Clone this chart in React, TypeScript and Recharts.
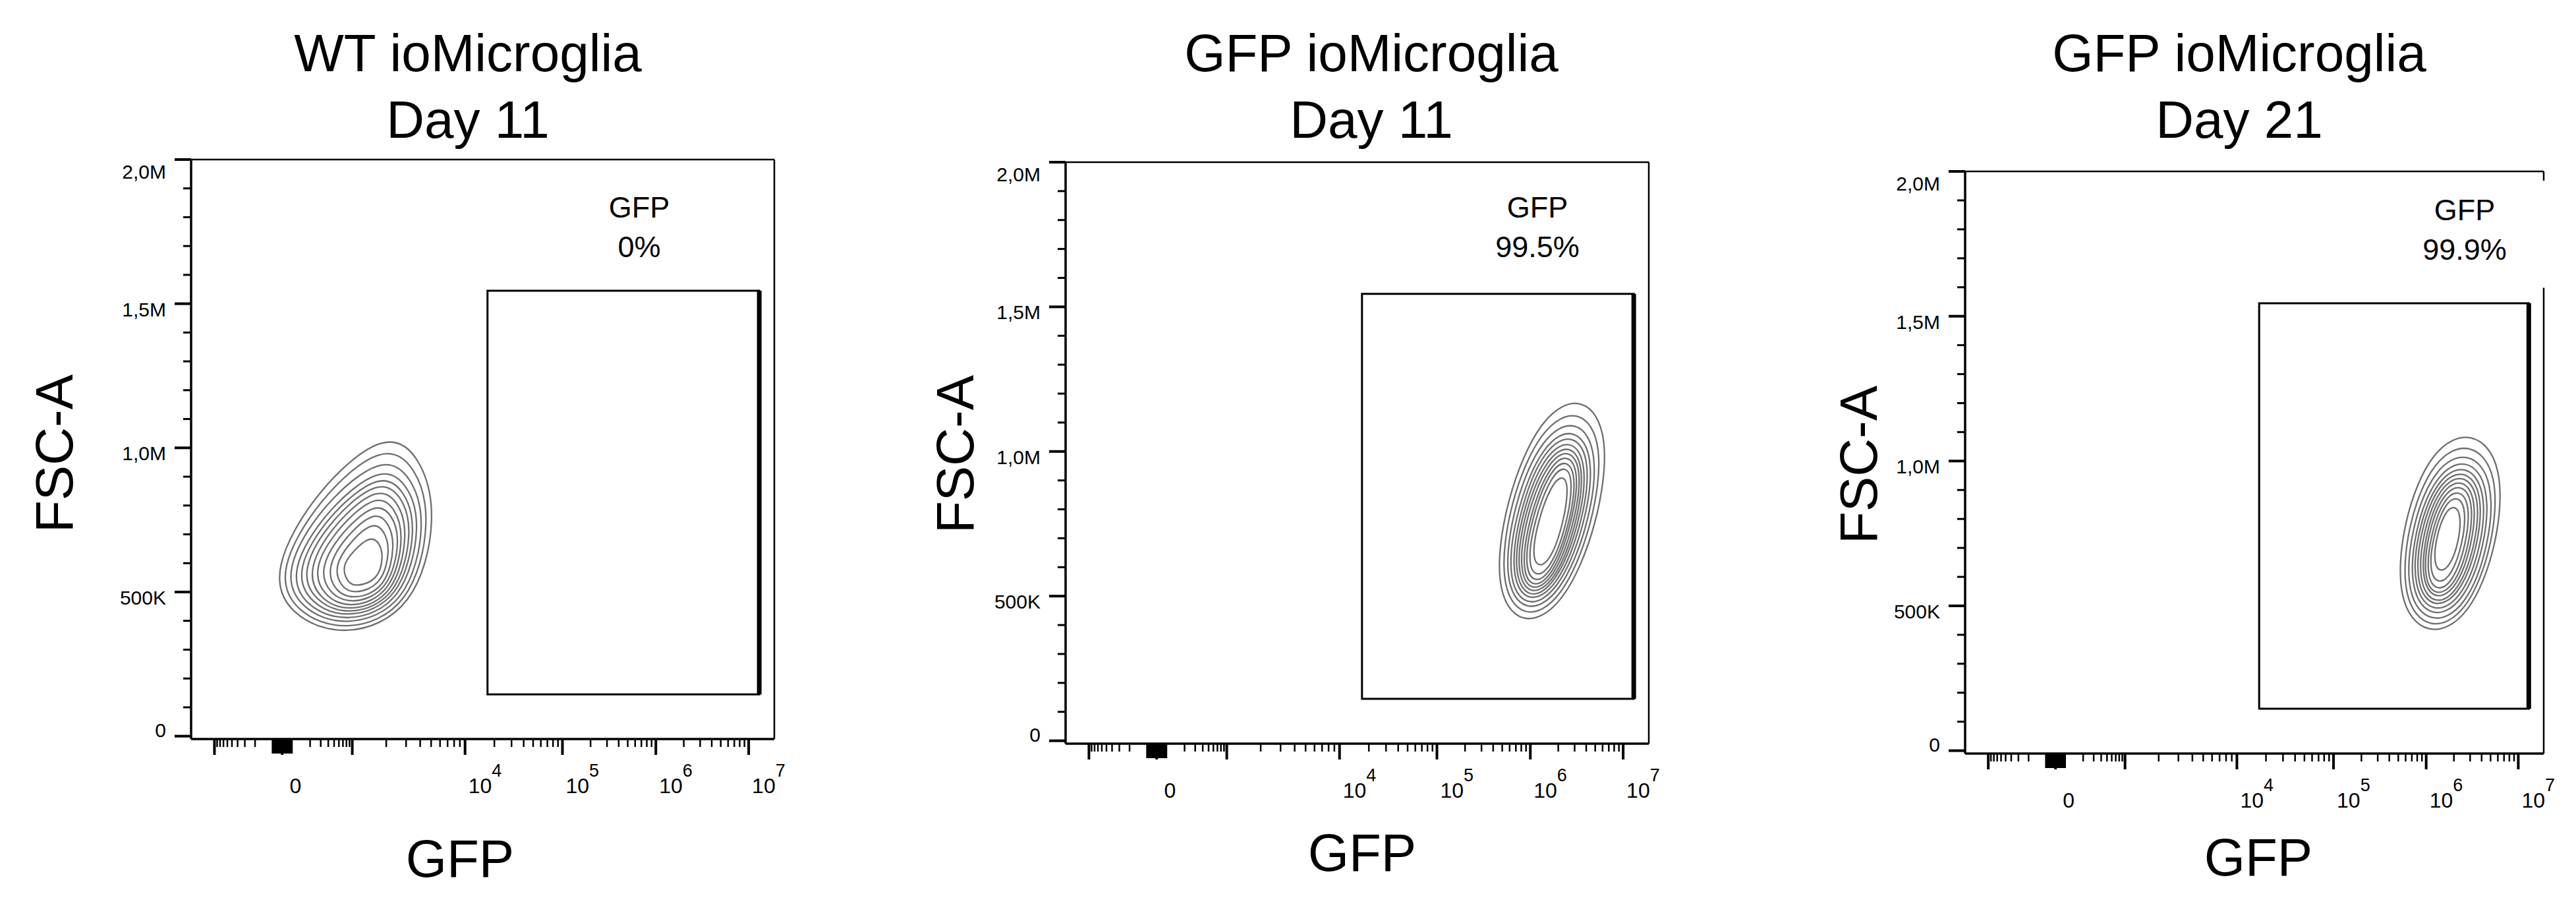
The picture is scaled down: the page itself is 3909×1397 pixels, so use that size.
import React from 'react';
import { ComposedChart, XAxis, YAxis, Scatter, ReferenceArea, ReferenceLine } from 'recharts';

// GFP is shown on a biexponential display: 0..1024 channel scale, anchored at decades
const X_ZERO_CH = 160;
const X_POS_DECADES = [100, 1e3, 1e4, 1e5, 1e6, 1e7];
const X_POS_CH = [177, 283, 481, 652, 816, 979];
const X_NEG_CH = [143, 41]; // -100, -1000

const X_LABELED = [0, 1e4, 1e5, 1e6, 1e7];
const X_EXPONENTS = ['', '4', '5', '6', '7'];
const X_LONG = [-1000, 1000];
const X_NEAR_ZERO = [-100, -90, -80, -70, -60, -50, -40, -30, -20, -10, 10, 20, 30, 40, 50, 60, 70, 80, 90, 100];
const X_MINOR_STEPS = [2, 3, 4, 5, 6, 7, 8, 9];
const X_MINOR_DECADES = [100, 1e3, 1e4, 1e5, 1e6];
const X_NEG_MINOR = [-200, -300, -400, -500, -600, -700, -800, -900];

// FSC-A in thousands
const Y_LABELED = [0, 500, 1000, 1500, 2000];
const Y_LABELS = ['0', '500K', '1,0M', '1,5M', '2,0M'];
const Y_MINOR = [100, 200, 300, 400, 600, 700, 800, 900, 1100, 1200, 1300, 1400, 1600, 1700, 1800, 1900];

const TITLES = ['WT ioMicroglia', 'GFP ioMicroglia', 'GFP ioMicroglia'];
const DAYS = ['Day 11', 'Day 11', 'Day 21'];
const GATE_NAME = 'GFP';
const GATE_PCT = ['0%', '99.5%', '99.9%'];
const GATE_GFP = [17000, 1.3e7];
const GATE_FSC = [145, 1545];

// contour rings: [GFP channel, FSC-A (K)]
const WT_D11_RINGS: number[][][] = [
  [[341, 1064], [403, 974], [434, 763], [393, 435], [270, 338], [172, 418], [139, 572], [219, 854]],
  [[337, 1020], [395, 938], [423, 755], [386, 444], [271, 356], [181, 430], [150, 572], [225, 828]],
  [[336, 978], [387, 903], [414, 746], [380, 454], [272, 374], [190, 441], [161, 574], [230, 804]],
  [[334, 943], [381, 874], [405, 737], [373, 463], [274, 389], [198, 450], [172, 575], [236, 783]],
  [[332, 917], [375, 853], [397, 728], [368, 472], [275, 403], [207, 460], [182, 577], [241, 769]],
  [[330, 894], [370, 834], [390, 719], [363, 479], [277, 415], [215, 469], [192, 578], [246, 755]],
  [[328, 869], [364, 814], [382, 709], [358, 485], [278, 427], [223, 476], [203, 580], [252, 741]],
  [[326, 843], [358, 792], [375, 698], [353, 494], [280, 440], [232, 485], [213, 582], [258, 726]],
  [[324, 813], [353, 769], [368, 685], [348, 503], [282, 455], [241, 495], [225, 584], [264, 709]],
  [[322, 782], [346, 743], [359, 670], [343, 512], [284, 471], [251, 505], [238, 587], [271, 692]],
  [[319, 745], [339, 714], [350, 650], [336, 525], [286, 491], [262, 519], [251, 589], [278, 672]],
  [[314, 694], [331, 672], [338, 622], [328, 541], [289, 517], [273, 536], [265, 592], [285, 643]],
];

const GFP_D11_RINGS: number[][][] = [
  [[909, 1198], [956, 1062], [936, 749], [874, 461], [799, 391], [752, 525], [772, 835], [834, 1127]],
  [[903, 1152], [945, 1030], [927, 748], [871, 481], [803, 416], [761, 540], [779, 826], [835, 1088]],
  [[898, 1115], [936, 1004], [920, 747], [868, 499], [806, 438], [768, 552], [786, 818], [837, 1057]],
  [[894, 1086], [929, 984], [913, 745], [865, 513], [808, 455], [774, 561], [792, 809], [839, 1031]],
  [[892, 1066], [923, 969], [907, 743], [863, 527], [811, 472], [780, 570], [797, 802], [840, 1013]],
  [[889, 1046], [917, 955], [902, 741], [860, 537], [813, 485], [785, 577], [801, 794], [842, 995]],
  [[887, 1029], [912, 943], [897, 739], [859, 548], [815, 498], [790, 584], [805, 788], [844, 979]],
  [[885, 1013], [908, 932], [892, 737], [857, 558], [817, 511], [795, 591], [809, 781], [846, 965]],
  [[883, 996], [903, 920], [887, 735], [855, 568], [819, 524], [800, 597], [814, 774], [848, 949]],
  [[881, 977], [898, 906], [883, 732], [853, 581], [822, 541], [805, 607], [818, 767], [849, 932]],
  [[879, 956], [892, 891], [878, 731], [852, 598], [825, 562], [811, 620], [823, 760], [851, 913]],
  [[875, 923], [884, 868], [871, 728], [851, 625], [830, 597], [819, 641], [828, 750], [852, 885]],
];

const GFP_D21_RINGS: number[][][] = [
  [[899, 1110], [953, 991], [944, 713], [892, 455], [818, 390], [764, 510], [773, 788], [825, 1046]],
  [[895, 1070], [944, 961], [935, 708], [888, 471], [821, 412], [773, 521], [781, 774], [828, 1011]],
  [[892, 1037], [936, 937], [928, 705], [885, 488], [824, 434], [780, 533], [788, 766], [831, 983]],
  [[889, 1012], [928, 920], [921, 706], [881, 505], [826, 455], [787, 546], [794, 761], [834, 961]],
  [[886, 991], [922, 906], [915, 706], [878, 519], [828, 472], [792, 557], [799, 756], [836, 943]],
  [[884, 974], [916, 895], [909, 709], [875, 534], [829, 489], [797, 567], [804, 754], [838, 929]],
  [[882, 958], [911, 884], [904, 709], [872, 544], [831, 501], [802, 575], [809, 750], [840, 915]],
  [[880, 941], [905, 873], [898, 711], [870, 558], [832, 518], [807, 586], [814, 748], [842, 901]],
  [[878, 924], [900, 862], [893, 711], [867, 569], [833, 531], [811, 593], [818, 744], [844, 886]],
  [[875, 904], [894, 848], [887, 712], [864, 583], [835, 548], [816, 603], [823, 740], [846, 869]],
  [[872, 882], [887, 834], [881, 716], [861, 604], [837, 573], [821, 621], [828, 739], [848, 852]],
  [[867, 849], [878, 812], [874, 723], [859, 638], [840, 614], [829, 651], [834, 740], [849, 825]],
];

const RINGS = [WT_D11_RINGS, GFP_D11_RINGS, GFP_D21_RINGS];

// page layout (px)
const PANELS = [
  { left: 290, top: 242, w: 885, h: 879, titleX: 710, gateX: 970, gateY: 330, xtX: 698, xtY: 1330, ytX: 110, ytY: 688, right: [[-10, 2000]] },
  { left: 1617, top: 246, w: 885, h: 882, titleX: 2081, gateX: 2333, gateY: 330, xtX: 2067, xtY: 1321, ytX: 1477, ytY: 689, right: [[-10, 2000]] },
  { left: 2982, top: 260, w: 878, h: 883, titleX: 3398, gateX: 3740, gateY: 334, xtX: 3427, xtY: 1328, ytX: 2848, ytY: 705, right: [[-10, 1598], [1968, 2000]] },
];

const FONT = '"Liberation Sans", Arial, Helvetica, sans-serif';
const NARROW = '"Liberation Sans Narrow", "Liberation Sans", Arial, sans-serif';
const CONTOUR = '#6e6e6e';
const Y_AXIS_W = 150;
const X_AXIS_H = 130;
const PAD_TOP = 10;
const PAD_RIGHT = 45;

const toChannel = (v: number): number => {
  const a = Math.abs(v);
  if (a <= 100) {
    return v >= 0 ? X_ZERO_CH + v * (X_POS_CH[0] - X_ZERO_CH) / 100 : X_ZERO_CH + v * (X_ZERO_CH - X_NEG_CH[0]) / 100;
  }
  const lv = Math.log10(a);
  if (v > 0) {
    for (let i = 0; i < X_POS_DECADES.length - 1; i++) {
      if (a <= X_POS_DECADES[i + 1]) {
        return X_POS_CH[i] + (lv - Math.log10(X_POS_DECADES[i])) * (X_POS_CH[i + 1] - X_POS_CH[i]);
      }
    }
    const n = X_POS_CH.length;
    return X_POS_CH[n - 1] + (lv - 7) * (X_POS_CH[n - 1] - X_POS_CH[n - 2]);
  }
  return X_NEG_CH[0] - (lv - 2) * (X_NEG_CH[0] - X_NEG_CH[1]);
};

type XTickDef = { ch: number; v: number; len: number; w: number; exp?: string };

const xTickDefs: XTickDef[] = [];
X_LABELED.forEach((v, i) => xTickDefs.push({ ch: toChannel(v), v, len: 24, w: 4, exp: X_EXPONENTS[i] }));
X_LONG.forEach((v) => xTickDefs.push({ ch: toChannel(v), v, len: 24, w: 4 }));
X_NEAR_ZERO.forEach((v) => xTickDefs.push({ ch: toChannel(v), v, len: 22, w: 2.5 }));
X_NEG_MINOR.forEach((v) => xTickDefs.push({ ch: toChannel(v), v, len: 12, w: 2.5 }));
X_MINOR_DECADES.forEach((d) => X_MINOR_STEPS.forEach((m) => xTickDefs.push({ ch: toChannel(m * d), v: m * d, len: 12, w: 2.5 })));
xTickDefs.sort((a, b) => a.ch - b.ch);
const X_TICKS = xTickDefs.map((t) => t.ch);
const Y_TICKS = [...Y_LABELED, ...Y_MINOR].sort((a, b) => a - b);

const findX = (ch: number) => {
  let best = xTickDefs[0];
  xTickDefs.forEach((t) => {
    if (Math.abs(t.ch - ch) < Math.abs(best.ch - ch)) best = t;
  });
  return best;
};

const XTick = (props: any) => {
  const { x, y, payload } = props;
  const t = findX(payload.value);
  return (
    <g>
      <line x1={x} x2={x} y1={y} y2={y + t.len} stroke="#000" strokeWidth={t.w} />
      {t.v === 0 && (
        <text x={x + 20} y={y + 82} textAnchor="middle" fontFamily={NARROW} fontSize={32} fill="#000">0</text>
      )}
      {t.exp && (
        <text x={x + 5} y={y + 82} textAnchor="start" fontFamily={NARROW} fontSize={32} fill="#000">
          10<tspan dy={-25} fontSize={27}>{t.exp}</tspan>
        </text>
      )}
    </g>
  );
};

const YTick = (props: any) => {
  const { x, y, payload } = props;
  const idx = Y_LABELED.indexOf(payload.value);
  const major = idx >= 0;
  let dy = 19;
  if (payload.value === 0) dy = 1;
  if (payload.value === 2000) dy = 29;
  return (
    <g>
      <line x1={x - (major ? 25 : 12)} x2={x} y1={y} y2={y} stroke="#000" strokeWidth={major ? 4 : 3} />
      {major && (
        <text x={x - 38} y={y + dy} textAnchor="end" fontFamily={FONT} fontSize={30} fill="#000">{Y_LABELS[idx]}</text>
      )}
    </g>
  );
};

const FlowPanel = ({ index }: { index: number }) => {
  const p = PANELS[index];
  const gx1 = toChannel(GATE_GFP[0]);
  const gx2 = toChannel(GATE_GFP[1]);
  return (
    <div style={{ position: 'absolute', left: p.left - Y_AXIS_W, top: p.top - PAD_TOP }}>
      <ComposedChart
        width={Y_AXIS_W + p.w + PAD_RIGHT}
        height={PAD_TOP + p.h + X_AXIS_H}
        margin={{ top: PAD_TOP, right: PAD_RIGHT, bottom: 0, left: 0 }}
      >
        <XAxis
          type="number"
          dataKey="x"
          domain={[0, 1024]}
          allowDataOverflow
          ticks={X_TICKS}
          interval={0}
          tick={<XTick />}
          tickLine={false}
          tickSize={0}
          tickMargin={0}
          height={X_AXIS_H}
          axisLine={{ stroke: '#000', strokeWidth: 3.5 }}
        />
        <YAxis
          type="number"
          dataKey="y"
          domain={[-10, 2000]}
          allowDataOverflow
          ticks={Y_TICKS}
          interval={0}
          tick={<YTick />}
          tickLine={false}
          tickSize={0}
          tickMargin={0}
          width={Y_AXIS_W}
          axisLine={{ stroke: '#000', strokeWidth: 3.5 }}
        />
        <ReferenceLine segment={[{ x: 0, y: 2000 }, { x: 1024, y: 2000 }]} stroke="#000" strokeWidth={2.5} />
        {p.right.map((s, i) => (
          <ReferenceLine key={i} segment={[{ x: 1024, y: s[0] }, { x: 1024, y: s[1] }]} stroke="#000" strokeWidth={2.5} />
        ))}
        <ReferenceArea x1={gx1} x2={gx2} y1={GATE_FSC[0]} y2={GATE_FSC[1]} fill="none" fillOpacity={0} stroke="#000" strokeWidth={3} />
        <ReferenceLine segment={[{ x: gx2, y: GATE_FSC[0] }, { x: gx2, y: GATE_FSC[1] }]} stroke="#000" strokeWidth={7} />
        {RINGS[index].map((ring, i) => (
          <Scatter
            key={i}
            data={ring.map((pt) => ({ x: pt[0], y: pt[1] }))}
            line={{ stroke: CONTOUR, strokeWidth: 2.3 }}
            lineType="joint"
            lineJointType="basisClosed"
            shape={() => <g />}
            fill={CONTOUR}
            isAnimationActive={false}
          />
        ))}
      </ComposedChart>
    </div>
  );
};

export default function App() {
  return (
    <div style={{ position: 'absolute', left: 0, top: 0, width: 3909, height: 1397, background: '#fff', overflow: 'hidden' }}>
      {PANELS.map((_, i) => (
        <FlowPanel key={i} index={i} />
      ))}
      <svg width={3909} height={1397} style={{ position: 'absolute', left: 0, top: 0, pointerEvents: 'none' }}>
        {PANELS.map((p, i) => (
          <g key={i} fontFamily={FONT} fill="#000">
            <text x={p.titleX} y={108} textAnchor="middle" fontSize={80}>{TITLES[i]}</text>
            <text x={p.titleX} y={209} textAnchor="middle" fontSize={80}>{DAYS[i]}</text>
            <text x={p.gateX} y={p.gateY} textAnchor="middle" fontSize={45}>{GATE_NAME}</text>
            <text x={p.gateX} y={p.gateY + 60} textAnchor="middle" fontSize={45}>{GATE_PCT[i]}</text>
            <text x={p.xtX} y={p.xtY} textAnchor="middle" fontSize={80}>GFP</text>
            <text x={p.ytX} y={p.ytY} textAnchor="middle" fontSize={80} transform={`rotate(-90 ${p.ytX} ${p.ytY})`}>FSC-A</text>
          </g>
        ))}
      </svg>
    </div>
  );
}
